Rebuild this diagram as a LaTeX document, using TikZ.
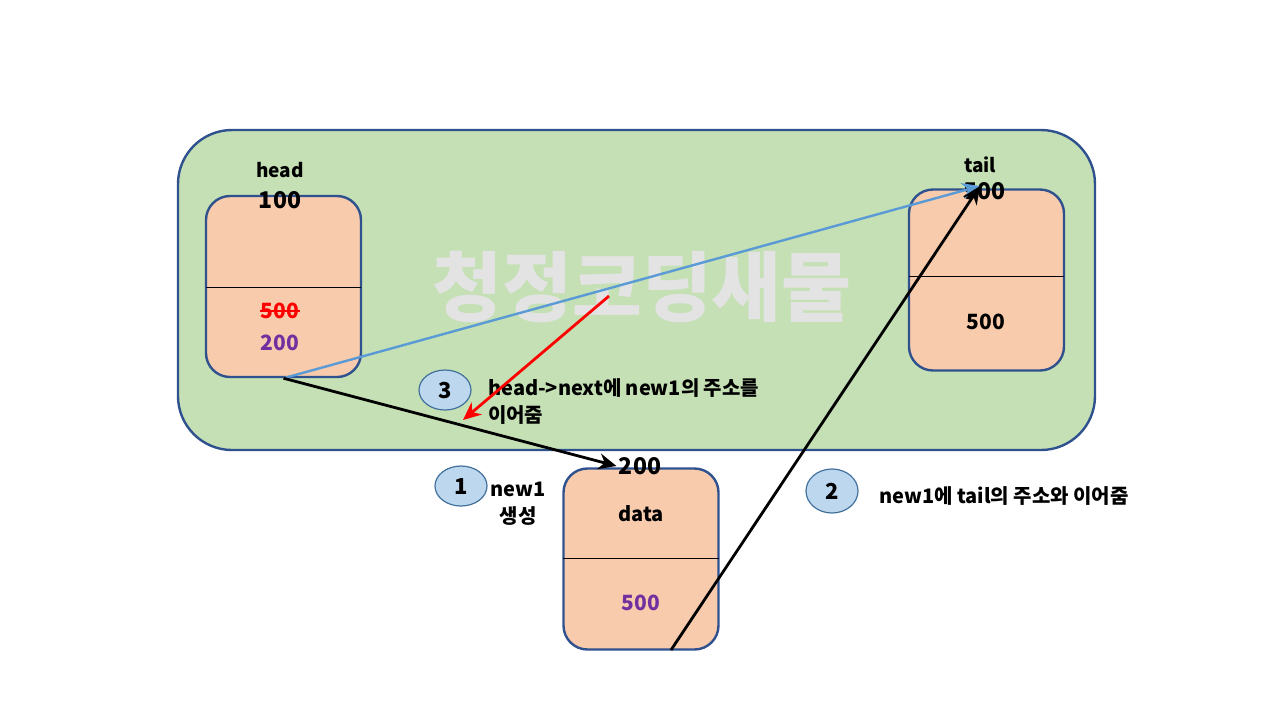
\documentclass[tikz,border=0pt]{standalone}
\usepackage{fontspec}
\setmainfont{Noto Sans CJK KR}
\usetikzlibrary{arrows.meta,shapes.geometric}
\definecolor{bgreen}{HTML}{C5E0B4}
\definecolor{bline}{HTML}{2F528F}
\definecolor{peach}{HTML}{F8CBAD}
\definecolor{cblue}{HTML}{BDD7EE}
\definecolor{cline}{HTML}{41719C}
\definecolor{ablue}{HTML}{5B9BD5}
\definecolor{vio}{HTML}{7030A0}
\definecolor{wmark}{HTML}{E3E3E3}
\begin{document}
\begin{tikzpicture}[x=.5pt,y=-.5pt,line width=.5pt,font=\fontsize{10}{13.5}\selectfont,
  box/.style={draw=bline,line width=1.2pt,fill=peach,rounded corners=12pt,minimum width=77.5pt,minimum height=90.5pt,inner sep=0pt},
  numb/.style={ellipse,draw=cline,line width=.6pt,fill=cblue,minimum width=26pt,minimum height=20pt,inner sep=0pt,font=\fontsize{11}{12}\bfseries},
  val/.style={font=\fontsize{10.5}{12}\bfseries,inner sep=1pt},
  arr/.style={-{Stealth[length=9pt,width=8pt]},line width=1.4pt}]
\fill[white] (0,0) rectangle (1280,720);
\draw[bline,line width=1.2pt,fill=bgreen,rounded corners=27pt] (178,130) rectangle (1095,450);
\node[text=wmark,font=\fontsize{38}{38}\bfseries] (mark) at (642,287) {청정코딩새물};
% nodes
\node[box] (head) at (283.5,286.5) {};
\draw (206,287)--(361,287);
\node[box] (tail) at (986.5,280) {};
\draw (909,276)--(1064,276);
\node[box] (new) at (641,559) {};
\draw (563,558)--(719,558);
\node[font=\fontsize{9.5}{11}\bfseries] (hname) at (280,170) {head};
\node[val,font=\fontsize{11.5}{12}\bfseries] (haddr) at (280,200) {100};
\node[val,red] (hold) at (280,311) {500};
\draw[red,line width=.8pt] ([xshift=1pt]hold.west)--([xshift=-1pt]hold.east);
\node[val,vio] (hnext) at (280,343) {200};
\node[font=\fontsize{9.5}{11}\bfseries] (tname) at (980,165) {tail};
\node[val,font=\fontsize{11.5}{12}\bfseries] (taddr) at (984,191) {500};
\node[val] (tnext) at (986,322) {500};
\node[val,font=\fontsize{11.5}{12}\bfseries] (naddr) at (640,466) {200};
\node[font=\fontsize{10}{12}\bfseries] (ndata) at (641,514) {data};
\node[val,vio] (nnext) at (641,603) {500};
% steps
\node[numb] (s3) at (445,390) {3};
\node[anchor=west,align=left,font=\fontsize{10}{13.5}\bfseries] (t3) at (481,402) {head->next에 new1의 주소를\\이어줌};
\node[numb] (s1) at (461,486) {1};
\node[align=center,font=\fontsize{10}{13.5}\bfseries] (t1) at (518,504) {new1\\생성};
\node[numb,minimum height=22pt] (s2) at (832,491) {2};
\node[anchor=west,font=\fontsize{10}{12}\bfseries] (t2) at (872,496) {new1에 tail의 주소와 이어줌};
% links
\coordinate (tailin) at (980,186);
\coordinate (newout) at (671,650);
\coordinate (cut) at (609,296);
\coordinate (redend) at (463,420);
\draw[arr,ablue,line width=1.2pt] (head.south)--(tailin);
\draw[arr] (head.south)--(naddr.west);
\draw[arr] (newout)--(tailin);
\draw[arr,red] (cut)--(redend);
\end{tikzpicture}
\end{document}
